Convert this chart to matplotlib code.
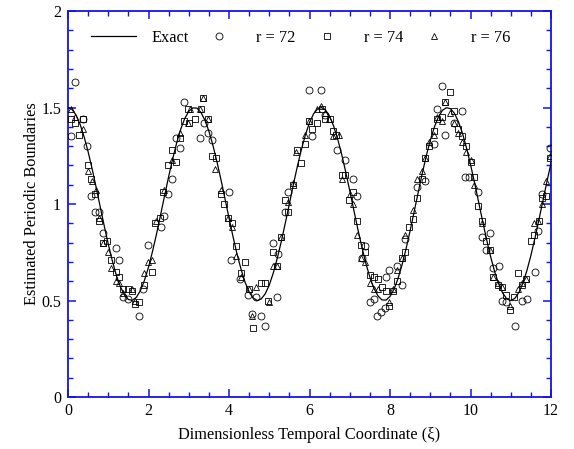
import matplotlib
matplotlib.use("Agg")
import matplotlib.pyplot as plt
from matplotlib.ticker import MultipleLocator

plt.rcParams['font.family'] = ['Liberation Serif', 'DejaVu Serif']

# exact boundary, read at 0.1 steps
exact_x = [i / 10 for i in range(121)]
exact_y = [1.500, 1.490, 1.461, 1.413, 1.348, 1.270, 1.181, 1.085, 0.985, 0.886,
           0.792, 0.706, 0.631, 0.572, 0.529, 0.505, 0.501, 0.517, 0.552, 0.605,
           0.673, 0.755, 0.846, 0.944, 1.044, 1.142, 1.234, 1.317, 1.388, 1.443,
           1.480, 1.498, 1.497, 1.475, 1.435, 1.377, 1.304, 1.219, 1.126, 1.027,
           0.927, 0.830, 0.740, 0.661, 0.594, 0.544, 0.513, 0.500, 0.508, 0.535,
           0.580, 0.643, 0.720, 0.807, 0.903, 1.002, 1.102, 1.197, 1.284, 1.360,
           1.422, 1.467, 1.493, 1.500, 1.486, 1.454, 1.403, 1.336, 1.256, 1.165,
           1.068, 0.969, 0.870, 0.777, 0.692, 0.620, 0.563, 0.524, 0.503, 0.502,
           0.521, 0.559, 0.615, 0.686, 0.770, 0.862, 0.961, 1.060, 1.158, 1.249,
           1.330, 1.398, 1.450, 1.485, 1.499, 1.494, 1.470, 1.426, 1.366, 1.291,
           1.204, 1.110, 1.011, 0.911, 0.815, 0.726, 0.649, 0.585, 0.538, 0.509,
           0.500, 0.511, 0.541, 0.590, 0.655, 0.734, 0.823, 0.919, 1.019, 1.118,
           1.212]

# r = 72
r72_x = [0.07, 0.18, 0.36, 0.47, 0.57, 0.68, 0.78, 0.88, 1.18, 1.27, 1.36, 1.48,
         1.77, 1.87, 1.98, 2.30, 2.39, 2.48, 2.58, 2.68, 2.78, 2.87,
         3.27, 3.38, 3.48, 3.58, 3.99, 4.06, 4.28, 4.47, 4.58, 4.68, 4.79, 4.89,
         5.09, 5.18, 5.22, 5.38, 5.47, 5.98, 6.05,
         6.29, 6.39, 6.69, 6.88, 7.09, 7.19, 7.30, 7.38, 7.49, 7.59, 7.67, 7.77,
         7.87, 7.90, 7.98, 8.18, 8.29, 8.37, 8.66, 8.87,
         9.09, 9.17, 9.29, 9.37, 9.58, 9.79, 9.87, 9.95, 10.19, 10.29, 10.39,
         10.49, 10.57, 10.70, 10.78, 10.87, 11.10, 11.28, 11.40, 11.59, 11.67,
         11.78, 11.98]
r72_y = [1.35, 1.63, 1.44, 1.30, 1.04, 0.96, 0.96, 0.85, 0.77, 0.71, 0.52, 0.51,
         0.42, 0.56, 0.79, 0.88, 0.94, 1.05, 1.13, 1.34, 1.29, 1.53,
         1.34, 1.42, 1.37, 1.33, 1.06, 0.71, 0.61, 0.53, 0.43, 0.52, 0.42, 0.37,
         0.80, 0.52, 0.74, 0.96, 1.06, 1.59, 1.35,
         1.59, 1.46, 1.28, 1.23, 1.13, 1.04, 0.72, 0.78, 0.49, 0.51, 0.42, 0.44,
         0.46, 0.62, 0.66, 0.68, 0.58, 0.82, 1.09, 1.12,
         1.31, 1.49, 1.61, 1.36, 1.42, 1.48, 1.14, 1.14, 1.06, 0.83, 0.76,
         0.85, 0.67, 0.68, 0.50, 0.49, 0.37, 0.50, 0.51, 0.65, 0.86,
         1.05, 1.29]

# r = 74
r74_x = [0.07, 0.18, 0.28, 0.36, 0.49, 0.57, 0.68, 0.78, 0.86, 0.96, 1.07, 1.18,
         1.27, 1.37, 1.48, 1.58, 1.67, 1.77, 1.88, 2.09, 2.17, 2.29, 2.37, 2.48,
         2.58, 2.68, 2.79, 2.89, 2.97, 3.00,
         3.15, 3.30, 3.35, 3.48, 3.58, 3.68, 3.79, 3.87, 3.98, 4.08, 4.18, 4.29,
         4.39, 4.49, 4.60, 4.79, 4.89, 4.97, 5.09, 5.20, 5.28, 5.38, 5.47, 5.59,
         5.70, 5.78, 5.88, 5.98, 6.06,
         6.18, 6.30, 6.39, 6.51, 6.59, 6.67, 6.80, 6.88, 6.99, 7.07, 7.17, 7.27,
         7.38, 7.49, 7.59, 7.69, 7.79, 7.90, 7.98, 8.08, 8.18, 8.29, 8.37, 8.48,
         8.58, 8.68, 8.79, 8.87, 8.98,
         9.09, 9.17, 9.29, 9.37, 9.48, 9.58, 9.69, 9.79, 9.89, 10.00, 10.08,
         10.19, 10.29, 10.39, 10.49, 10.57, 10.68, 10.78, 10.87, 10.98, 11.07,
         11.19, 11.28, 11.38, 11.49, 11.57, 11.69, 11.78, 11.88, 11.98]
r74_y = [1.44, 1.42, 1.36, 1.44, 1.20, 1.13, 1.05, 0.91, 0.80, 0.81, 0.71, 0.65,
         0.62, 0.56, 0.56, 0.55, 0.48, 0.49, 0.58, 0.65, 0.90, 0.93, 1.06, 1.20,
         1.28, 1.22, 1.34, 1.43, 1.49, 1.42,
         1.44, 1.49, 1.55, 1.44, 1.25, 1.24, 1.05, 1.00, 0.93, 0.90, 0.78, 0.64,
         0.70, 0.56, 0.36, 0.59, 0.59, 0.50, 0.75, 0.68, 0.83, 1.02, 0.96, 1.10,
         1.28, 1.21, 1.31, 1.43, 1.39,
         1.42, 1.49, 1.44, 1.44, 1.38, 1.36, 1.15, 1.15, 1.02, 1.06, 0.91, 0.79,
         0.75, 0.63, 0.62, 0.61, 0.57, 0.55, 0.47, 0.55, 0.60, 0.72, 0.75, 0.88,
         0.92, 1.03, 1.13, 1.24, 1.30,
         1.38, 1.44, 1.45, 1.53, 1.58, 1.48, 1.39, 1.35, 1.30, 1.22, 1.14,
         0.99, 0.91, 0.81, 0.76, 0.62, 0.58, 0.57, 0.53, 0.45, 0.52,
         0.64, 0.58, 0.61, 0.81, 0.84, 0.91, 1.03, 1.04, 1.24]

# r = 76
r76_x = [0.07, 0.18, 0.36, 0.49, 0.60, 0.70, 0.78, 0.88, 0.99, 1.07, 1.18, 1.27,
         1.37, 1.58, 1.67, 1.88, 1.98, 2.09, 2.19, 2.38, 2.58, 2.79, 2.97,
         3.02, 3.27, 3.35, 3.48, 3.66, 3.79, 3.98, 4.08, 4.18, 4.29, 4.49, 4.58,
         4.68, 4.99, 5.09, 5.20, 5.28, 5.47, 5.59, 5.67, 5.88, 5.98,
         6.18, 6.29, 6.39, 6.49, 6.59, 6.72, 6.80, 7.00, 7.09, 7.19, 7.27, 7.38,
         7.49, 7.59, 7.70, 7.98, 8.08, 8.18, 8.29, 8.37, 8.58, 8.68, 8.79, 8.87,
         8.98,
         9.09, 9.17, 9.28, 9.37, 9.49, 9.58, 9.69, 9.79, 9.89, 10.00, 10.08,
         10.29, 10.49, 10.57, 10.68, 10.78, 10.98, 11.19, 11.28, 11.38, 11.57,
         11.67, 11.78, 11.88, 11.98]
r76_y = [1.49, 1.45, 1.39, 1.17, 1.12, 1.07, 0.93, 0.80, 0.75, 0.67, 0.60, 0.59,
         0.54, 0.56, 0.50, 0.64, 0.70, 0.71, 0.91, 1.07, 1.23, 1.37, 1.42,
         1.49, 1.49, 1.55, 1.44, 1.18, 1.07, 0.93, 0.88, 0.73, 0.62, 0.56, 0.42,
         0.57, 0.49, 0.68, 0.68, 0.83, 1.01, 1.11, 1.27, 1.36, 1.43,
         1.49, 1.51, 1.47, 1.44, 1.35, 1.36, 1.13, 1.05, 1.00, 0.84, 0.72, 0.70,
         0.59, 0.56, 0.56, 0.49, 0.56, 0.66, 0.72, 0.84, 0.97, 1.13, 1.17, 1.24,
         1.32,
         1.36, 1.45, 1.43, 1.53, 1.47, 1.42, 1.37, 1.32, 1.27, 1.23, 1.10,
         0.90, 0.76, 0.62, 0.59, 0.57, 0.47, 0.56, 0.59, 0.61, 0.90,
         0.91, 1.00, 1.12, 1.25]

blue = '#1414e6'

fig = plt.figure(figsize=(5.74, 4.49), dpi=100)
ax = fig.add_axes([0.1185, 0.1158, 0.8415, 0.8597])

ax.plot(exact_x, exact_y, color='black', lw=0.9, label='Exact', zorder=3)
mk = dict(ls='none', mfc='none', mec='black', mew=0.6, zorder=4)
ax.plot(r72_x, r72_y, marker='o', ms=5, label='r = 72', **mk)
ax.plot(r74_x, r74_y, marker='s', ms=4.6, label='r = 74', **mk)
ax.plot(r76_x, r76_y, marker='^', ms=5, label='r = 76', **mk)

ax.set_xlim(0, 12)
ax.set_ylim(0, 2)
ax.xaxis.set_major_locator(MultipleLocator(2))
ax.xaxis.set_minor_locator(MultipleLocator(0.5))
ax.yaxis.set_major_locator(MultipleLocator(0.5))
ax.yaxis.set_minor_locator(MultipleLocator(0.1))
ax.set_xticklabels([f'{v:g}' for v in ax.get_xticks()])
ax.set_yticklabels([f'{v:g}' for v in ax.get_yticks()])

for s in ax.spines.values():
    s.set_color(blue)
    s.set_linewidth(1.3)
ax.tick_params(which='both', direction='in', top=True, right=True,
               color=blue, labelcolor='black', labelsize=11.5)
ax.tick_params(which='major', length=6, width=1.1)
ax.tick_params(which='minor', length=3.5, width=1.0)
ax.tick_params(axis='x', pad=4)
ax.tick_params(axis='y', pad=5)

ax.set_xlabel('Dimensionless Temporal Coordinate (ξ)', fontsize=11.8, labelpad=6)
ax.set_ylabel('Estimated Periodic Boundaries', fontsize=11.8, labelpad=1)

leg = ax.legend(ncol=4, loc='center left', bbox_to_anchor=(0.048, 0.93),
                frameon=False, fontsize=11.8, handlelength=2.75,
                handletextpad=0.9, columnspacing=0.5, borderpad=0,
                borderaxespad=0, numpoints=1)

fig.savefig('out.png', dpi=100)
